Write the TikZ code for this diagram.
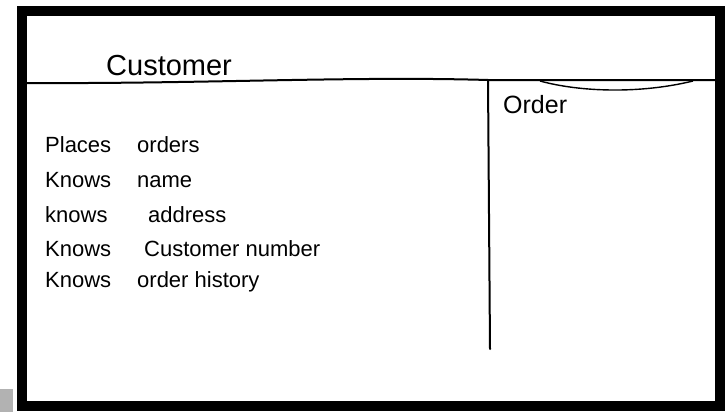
\documentclass[tikz,border=0pt]{standalone}
\usepackage{fontspec}
\setmainfont{Liberation Sans}
\usepackage{tikz}
\usetikzlibrary{positioning}
\definecolor{tabgrey}{RGB}{178,178,178}
\tikzset{
    card/.style={draw=black, line width=10pt},
    pen/.style={draw=black, line width=2pt, line cap=round},
    thinpen/.style={draw=black, line width=1.4pt},
    title/.style={anchor=base west, inner sep=0pt, font=\fontsize{29}{31}\selectfont},
    collab/.style={anchor=base west, inner sep=0pt, font=\fontsize{25}{27}\selectfont},
    duty/.style={anchor=base west, inner sep=0pt, font=\fontsize{22}{24}\selectfont}
}
\begin{document}
\begin{tikzpicture}[x=1pt,y=-1pt]
\useasboundingbox (0,0) rectangle (725,412);

% Card frame and grey tab
\fill[tabgrey] (0,389) rectangle (13,412);
\draw[card] (22,11) rectangle (720,406);

% Header line and column divider
\draw[pen] (25,83) .. controls (200,84) and (350,76) .. (488,80) -- (715,80);
\draw[thinpen] (540,81) .. controls (580,92) and (640,94) .. (693,81);
\draw[pen] (488,80) -- (490,349);

% Class name and collaborator
\node[title]  (classname) at (106,75)  {Customer};
\node[collab] (order)     at (503,113) {Order};

% Responsibilities
\foreach \i/\y/\x/\verb/\what in {1/152/137/Places/orders, 2/187/137/Knows/name,
    3/222/148/knows/address, 4/256/144/Knows/Customer number, 5/287/137/Knows/order history}{
    \node[duty] (verb\i) at (45,\y)  {\verb};
    \node[duty] (what\i) at (\x,\y) {\what};
}

\end{tikzpicture}
\end{document}
